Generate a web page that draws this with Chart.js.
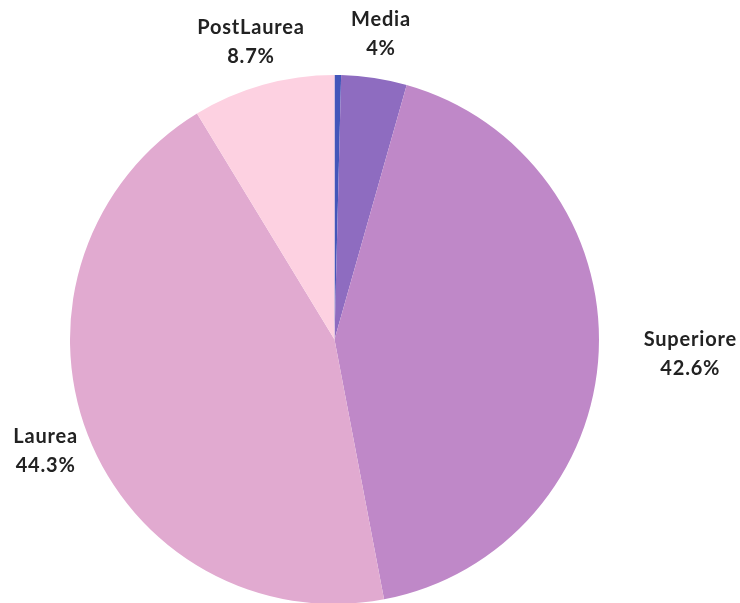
<!DOCTYPE html>
<html>
<head>
    <meta charset="utf-8">
    <title>Titolo di studio</title>
    <script src="https://cdn.jsdelivr.net/npm/chart.js@4/dist/chart.umd.min.js"></script>
    <style>
        html, body { margin: 0; padding: 0; background: #fff; overflow: hidden; }
        #wrap { width: 740px; height: 610px; }
    </style>
</head>
<body>
    <div id="wrap">
        <canvas id="c1" width="740" height="610"></canvas>
    </div>
    <script>
        // values (percent)
        var categories = ["Elementare", "Media", "Superiore", "Laurea", "PostLaurea"];
        var values = [0.4, 4, 42.6, 44.3, 8.7];
        var sliceColors = ["#4356ba", "#8e6cc0", "#bf88c8", "#e1aad0", "#fdd1e1"];

        var labelFont = "bold 20px Lato, 'Open Sans', sans-serif";

        function pctText(v, total) {
            var p = Math.round(v / total * 1000) / 10;
            return p + "%";
        }

        // draws "name / pct" outside each slice
        var outerLabels = {
            id: "outerLabels",
            afterDatasetsDraw: function(chart) {
                var ctx = chart.ctx;
                var meta = chart.getDatasetMeta(0);
                var data = chart.data.datasets[0].data;
                var total = data.reduce(function(a, b) { return a + b; }, 0);
                ctx.save();
                ctx.font = labelFont;
                ctx.letterSpacing = "0.8px";
                ctx.fillStyle = "#222";
                ctx.textAlign = "center";
                ctx.textBaseline = "middle";
                meta.data.forEach(function(arc, i) {
                    if (data[i] / total < 0.01) return;
                    var p = arc.getProps(["x", "y", "startAngle", "endAngle", "outerRadius"], true);
                    var mid = (p.startAngle + p.endAngle) / 2;
                    var r = p.outerRadius + 45;
                    var cx = p.x + Math.cos(mid) * r;
                    var cy = p.y + Math.sin(mid) * r;
                    var w = Math.max(ctx.measureText(categories[i]).width, ctx.measureText(pctText(data[i], total)).width);
                    // near horizontal: push the box out so it clears the pie
                    if (Math.abs(Math.cos(mid)) > 0.97) {
                        cx += Math.sign(Math.cos(mid)) * w / 2;
                    }
                    ctx.fillText(categories[i], cx, cy - 14);
                    ctx.fillText(pctText(data[i], total), cx, cy + 15);
                });
                ctx.restore();
            }
        };

        var pc1 = new Chart(document.getElementById("c1"), {
            type: "pie",
            data: {
                labels: categories,
                datasets: [{
                    data: values,
                    backgroundColor: sliceColors,
                    borderWidth: 0
                }]
            },
            options: {
                responsive: false,
                animation: false,
                layout: {
                    padding: { left: 70, right: 141, top: 75, bottom: 6 }
                },
                plugins: {
                    legend: { display: false },
                    tooltip: { enabled: false }
                }
            },
            plugins: [outerLabels]
        });
    </script>
</body>
</html>
